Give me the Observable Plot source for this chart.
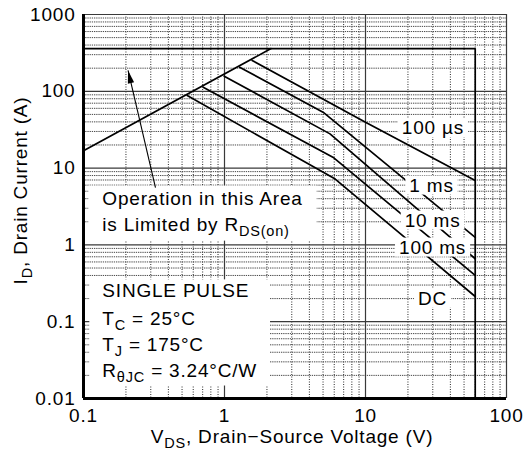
<!DOCTYPE html>
<html><head><meta charset="utf-8">
<script src="https://cdn.jsdelivr.net/npm/d3@7"></script>
<script src="https://cdn.jsdelivr.net/npm/@observablehq/plot@0.6"></script>
<style>
body{margin:0;background:#fff}
svg{display:block}
svg text{letter-spacing:0.8px}
</style>
</head><body><div id="chart"></div>
<script>
// ---- axes ----
const xTicks = [0.1, 1, 10, 100];
const xTickLabels = ["0.1", "1", "10", "100"];
const yTicks = [0.01, 0.1, 1, 10, 100, 1000];
const yTickLabels = ["0.01", "0.1", "1", "10", "100", "1000"];
const minorSteps = [2, 3, 4, 5, 6, 7, 8, 9];
const xTitle = "V_{DS}, Drain\u2212Source Voltage (V)";
const yTitle = "I_{D}, Drain Current (A)";

// ---- limit lines (V, A) ----
const rdsV = [0.1, 2.14];
const rdsA = [16.8, 360];
const limitV = [0.1, 60, 60];
const limitA = [360, 360, 0.01];

// ---- pulse curves (V, A) ----
const curveNames = ["100 \u00b5s", "1 ms", "10 ms", "100 ms", "DC"];
const curveV = [
  [1.57, 10, 60],
  [1.28, 5.0, 60],
  [0.995, 5.6, 60],
  [0.706, 5.96, 60],
  [0.544, 6.1, 60]
];
const curveA = [
  [252, 39.6, 6.9],
  [206, 53.5, 1.25],
  [157, 27.9, 0.66],
  [113, 13.6, 0.40],
  [88, 7.2, 0.213]
];

// ---- labels ----
const curveLabelV = [30.1, 29.4, 29.9, 29.9, 29.9];
const curveLabelA = [33.1, 5.93, 2.08, 0.925, 0.2];
const noteLines = ["Operation in this Area", "is Limited by R_{DS(on)}"];
const noteV = [0.136, 0.136];
const noteA = [4.02, 1.84];
const condLines = ["SINGLE PULSE", "T_{C} = 25\u00b0C", "T_{J} = 175\u00b0C", "R_{\u03b8JC} = 3.24\u00b0C/W"];
const condV = [0.136, 0.136, 0.136, 0.136];
const condA = [0.249, 0.110, 0.0505, 0.0232];
const arrowV = [0.324, 0.207]; // tail, head
const arrowA = [5.55, 187];

// ---- derived tables ----
const xMinor = xTicks.slice(0, -1).flatMap(d => minorSteps.map(m => d * m));
const yMinor = yTicks.slice(0, -1).flatMap(d => minorSteps.map(m => d * m));
const rdsLine = rdsV.map((v, i) => ({v, a: rdsA[i]}));
const limitLine = limitV.map((v, i) => ({v, a: limitA[i]}));
const curves = curveNames.flatMap((name, k) => curveV[k].map((v, i) => ({name, v, a: curveA[k][i]})));
const curveLabels = curveNames.map((t, i) => ({t, v: curveLabelV[i], a: curveLabelA[i]}));
const notes = noteLines.map((t, i) => ({t, v: noteV[i], a: noteA[i]}));
const conds = condLines.map((t, i) => ({t, v: condV[i], a: condA[i]}));
const arrow = [{x1: arrowV[0], y1: arrowA[0], x2: arrowV[1], y2: arrowA[1]}];

const lineStyle = {stroke: "black", strokeWidth: 1.7, strokeLinejoin: "miter"};

function build(useSpike) {
  return Plot.plot({
    width: 523, height: 458,
    marginLeft: 83, marginRight: 17, marginTop: 14, marginBottom: 60,
    x: {type: "log", domain: [0.1, 100]},
    y: {type: "log", domain: [0.01, 1000]},
    style: {fontFamily: "'Liberation Sans', Arial, Helvetica, sans-serif", fontSize: "19px", background: "white", color: "black"},
    marks: [
      Plot.ruleX(xMinor, {stroke: "#111", strokeWidth: 0.9, strokeDasharray: "1,1.5"}),
      Plot.ruleY(yMinor, {stroke: "#333", strokeWidth: 0.9, strokeDasharray: "1.3,0.9"}),
      Plot.ruleX(xTicks, {stroke: "#3a3a3a", strokeWidth: 1.2}),
      Plot.ruleY(yTicks, {stroke: "#3a3a3a", strokeWidth: 1.2}),
      Plot.axisX({ticks: xTicks, tickFormat: d => xTickLabels[xTicks.indexOf(d)], tickSize: 0, tickPadding: 10, label: null}),
      Plot.axisY({ticks: yTicks, tickFormat: d => yTickLabels[yTicks.indexOf(d)], tickSize: 0, tickPadding: 8, label: null}),
      Plot.line(limitLine, {x: "v", y: "a", ...lineStyle}),
      Plot.line(rdsLine, {x: "v", y: "a", ...lineStyle}),
      Plot.line(curves, {x: "v", y: "a", z: "name", ...lineStyle}),
      Plot.ruleX([0.1], {stroke: "black", strokeWidth: 3}),
      Plot.ruleY([0.01], {stroke: "black", strokeWidth: 3}),
      Plot.text(curveLabels, {x: "v", y: "a", text: "t", textAnchor: "middle", fill: "black"}),
      Plot.text(notes, {x: "v", y: "a", text: "t", textAnchor: "start", fill: "black"}),
      Plot.text(conds, {x: "v", y: "a", text: "t", textAnchor: "start", fill: "black"}),
      Plot.link(arrow, {x1: "x1", y1: "y1", x2: "x2", y2: "y2", stroke: "black", strokeWidth: 1.1}),
      useSpike
        ? Plot.vector(arrow, {x: "x2", y: "y2", rotate: -13, length: 13, r: 3.2, shape: "spike", anchor: "end", fill: "black", stroke: "none"})
        : Plot.arrow(arrow, {x1: "x1", y1: "y1", x2: "x2", y2: "y2", stroke: "black", strokeWidth: 1.1, headLength: 12}),
      Plot.text([xTitle], {text: d => d, frameAnchor: "bottom", dy: 44, dx: -3, textAnchor: "middle", fill: "black"}),
      Plot.text([yTitle], {text: d => d, frameAnchor: "left", dx: -63, dy: -16, rotate: -90, textAnchor: "middle", fill: "black"})
    ]
  });
}

let chart;
try { chart = build(true); } catch (e) { chart = build(false); }
document.getElementById("chart").append(chart);

// subscripts
const NS = "http://www.w3.org/2000/svg";
d3.select(chart).selectAll("text").each(function () {
  const s = this.textContent;
  if (!s.includes("_{")) return;
  const parts = s.split(/(_\{[^}]*\})/).filter(p => p);
  this.textContent = "";
  let prevSub = false;
  for (const p of parts) {
    const ts = document.createElementNS(NS, "tspan");
    if (p.startsWith("_{")) {
      ts.textContent = p.slice(2, -1);
      ts.setAttribute("font-size", "14.5");
      ts.setAttribute("dy", prevSub ? "0" : "5");
      prevSub = true;
    } else {
      ts.textContent = p;
      if (prevSub) ts.setAttribute("dy", "-5");
      prevSub = false;
    }
    this.appendChild(ts);
  }
});

// white boxes behind annotation texts
const svgBox = chart.getBoundingClientRect();
const textGroups = Array.from(chart.querySelectorAll('g[aria-label="text"]'));
function addBox(g, els, padX, padY) {
  let x0 = Infinity, y0 = Infinity, x1 = -Infinity, y1 = -Infinity;
  for (const el of els) {
    const b = el.getBoundingClientRect();
    x0 = Math.min(x0, b.left); y0 = Math.min(y0, b.top);
    x1 = Math.max(x1, b.right); y1 = Math.max(y1, b.bottom);
  }
  const r = document.createElementNS(NS, "rect");
  r.setAttribute("x", x0 - svgBox.left - padX);
  r.setAttribute("y", y0 - svgBox.top - padY);
  r.setAttribute("width", x1 - x0 + 2 * padX);
  r.setAttribute("height", y1 - y0 + 2 * padY);
  r.setAttribute("fill", "white");
  g.parentNode.insertBefore(r, g);
}
if (textGroups.length >= 3) {
  for (const t of textGroups[0].querySelectorAll("text")) addBox(textGroups[0], [t], 4, -1);
  addBox(textGroups[1], Array.from(textGroups[1].querySelectorAll("text")), 14, 2);
  addBox(textGroups[2], Array.from(textGroups[2].querySelectorAll("text")), 13, 1);
}
</script>
</body></html>
